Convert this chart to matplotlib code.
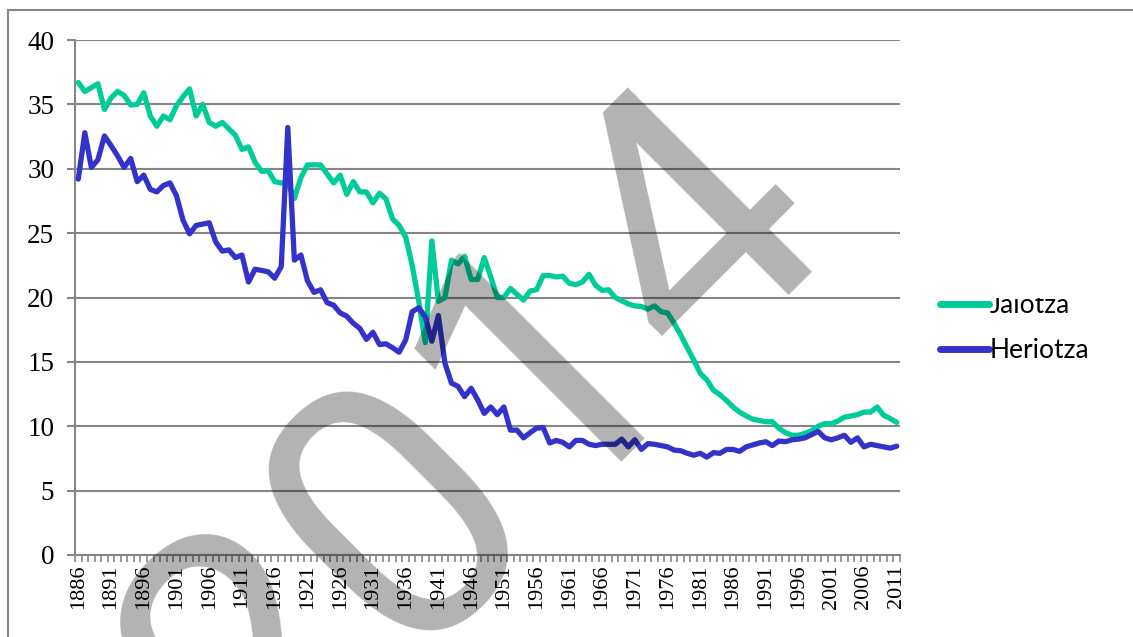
import numpy as np
import matplotlib
matplotlib.use("Agg")
import matplotlib.pyplot as plt
from matplotlib.patches import Rectangle
from matplotlib.transforms import Bbox, TransformedBbox

plt.rcParams['font.family'] = ['Liberation Serif', 'DejaVu Serif']

years = list(range(1886, 2012))

jaiotza = [
    36.7, 36.0, 36.3, 36.6, 34.6, 35.5, 36.0, 35.7, 34.95, 35.0,
    35.9, 34.1, 33.3, 34.1, 33.8, 34.9, 35.6, 36.2, 34.1, 35.0,
    33.6, 33.3, 33.6, 33.1, 32.6, 31.5, 31.7, 30.5, 29.8, 29.85,
    29.0, 28.9, 28.9, 27.7, 29.3, 30.3, 30.3, 30.3, 29.6, 28.9,
    29.5, 28.0, 29.0, 28.2, 28.2, 27.35, 28.1, 27.65, 26.1, 25.6,
    24.7, 22.5, 19.7, 16.5, 24.4, 19.7, 20.0, 22.9, 22.6, 23.2,
    21.4, 21.4, 23.1, 21.6, 20.0, 20.0, 20.7, 20.25, 19.8, 20.5,
    20.6, 21.7, 21.7, 21.6, 21.65, 21.1, 21.0, 21.2, 21.8, 20.95,
    20.55, 20.6, 20.0, 19.75, 19.5, 19.35, 19.3, 19.1, 19.35, 18.9,
    18.8, 18.0, 17.1, 16.1, 15.15, 14.1, 13.6, 12.8, 12.45, 12.0,
    11.5, 11.1, 10.8, 10.55, 10.45, 10.35, 10.35, 9.85, 9.5, 9.3,
    9.3, 9.45, 9.65, 10.0, 10.2, 10.2, 10.4, 10.7, 10.8, 10.9,
    11.1, 11.1, 11.5, 10.85, 10.6, 10.3,
]

heriotza = [
    29.2, 32.8, 30.1, 30.7, 32.55, 31.8, 31.0, 30.1, 30.8, 29.0,
    29.5, 28.4, 28.2, 28.7, 28.9, 27.9, 26.0, 24.95, 25.6, 25.7,
    25.8, 24.3, 23.6, 23.7, 23.1, 23.3, 21.2, 22.2, 22.1, 22.0,
    21.5, 22.4, 33.2, 22.9, 23.3, 21.3, 20.4, 20.6, 19.6, 19.4,
    18.8, 18.55, 18.0, 17.6, 16.75, 17.3, 16.35, 16.4, 16.1, 15.75,
    16.7, 18.9, 19.2, 18.5, 16.6, 18.6, 14.9, 13.35, 13.1, 12.3,
    12.95, 12.05, 11.0, 11.5, 10.9, 11.5, 9.7, 9.7, 9.1, 9.5,
    9.85, 9.9, 8.7, 8.9, 8.75, 8.4, 8.9, 8.9, 8.6, 8.5,
    8.6, 8.6, 8.6, 9.0, 8.4, 8.95, 8.2, 8.65, 8.6, 8.5,
    8.4, 8.15, 8.1, 7.9, 7.75, 7.9, 7.6, 7.95, 7.9, 8.2,
    8.2, 8.05, 8.4, 8.55, 8.7, 8.8, 8.5, 8.85, 8.8, 8.95,
    9.0, 9.1, 9.35, 9.6, 9.1, 8.95, 9.1, 9.3, 8.75, 9.1,
    8.4, 8.6, 8.5, 8.4, 8.3, 8.45,
]

W, H = 1133, 637
grey = '#868686'

fig = plt.figure(figsize=(W / 100, H / 100), dpi=100)
ax = fig.add_axes([75 / W, 1 - 555 / H, 825 / W, 515 / H])

x = np.arange(len(years))
ax.plot(x, jaiotza, color='#00CC99', lw=3.8, label='Jaiotza',
        solid_joinstyle='round', solid_capstyle='round', zorder=3)
ax.plot(x, heriotza, color='#3333CC', lw=3.8, label='Heriotza',
        solid_joinstyle='round', solid_capstyle='round', zorder=3)

ax.set_xlim(-0.5, len(years) - 0.5)
ax.set_ylim(0, 40)
ax.set_yticks(np.arange(0, 41, 5))
ax.grid(axis='y', color=grey, lw=1.5)
ax.set_axisbelow(True)

ax.set_xticks(x[::5])
ax.set_xticklabels([str(y) for y in years[::5]], rotation=90)
ax.set_xticks(np.arange(-0.5, len(years)), minor=True)
ax.tick_params(axis='x', which='major', length=0, pad=7, labelsize=16)
ax.tick_params(axis='x', which='minor', length=5, width=1.2, color=grey)
ax.tick_params(axis='y', length=6, width=1.5, color=grey, pad=9,
               labelsize=19.5)

for s in ['top', 'right']:
    ax.spines[s].set_visible(False)
for s in ['left', 'bottom']:
    ax.spines[s].set_color(grey)
    ax.spines[s].set_linewidth(1.5)

leg = ax.legend(loc='upper left', bbox_to_anchor=(927 / W, 1 - 280 / H),
                bbox_transform=fig.transFigure, frameon=False,
                prop={'family': 'Lato', 'size': 19}, handlelength=1.85,
                handletextpad=0.02, labelspacing=0.76, borderpad=0)
for ln in leg.get_lines():
    ln.set_linewidth(5)
# the top of the first label is cut off in the original
clip = TransformedBbox(Bbox([[900 / W, 0], [1, 1 - 298 / H]]), fig.transFigure)
leg.get_texts()[0].set_clip_box(clip)
leg.get_texts()[0].set_clip_on(True)

fig.patches.append(Rectangle((8 / W, -0.1), 1.2, 1.1 - 10 / H,
                             transform=fig.transFigure, fill=False,
                             edgecolor=grey, lw=1.5))

# "2014" watermark over everything
fig.text(258 / W, 1 - 808 / H, '2014', rotation=45, rotation_mode='anchor',
         fontsize=263, family='Roboto', color=(0, 0, 0, 0.3),
         ha='left', va='baseline', zorder=10)

fig.savefig('out.png', dpi=100)
